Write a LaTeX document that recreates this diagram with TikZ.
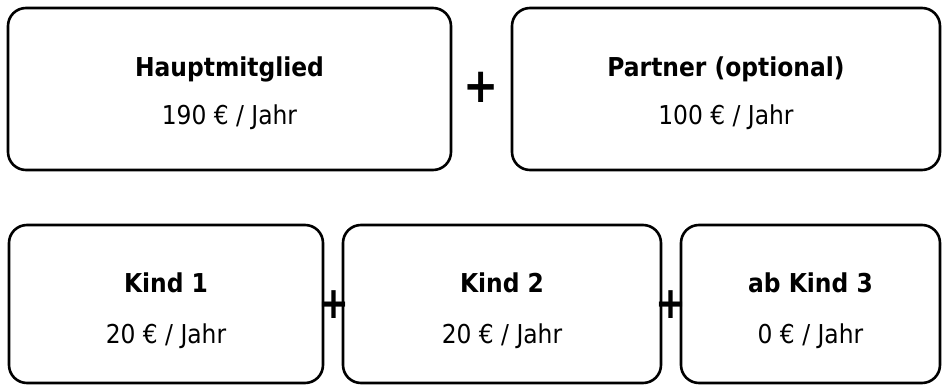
\documentclass[tikz,border=0pt]{standalone}
\usepackage{fontspec}
\setmainfont{DejaVu Sans Condensed}
\newfontfamily\plusfont{DejaVu Sans}[BoldFont={DejaVu Sans Bold}]
\begin{document}
\begin{tikzpicture}[x=1pt,y=-1pt,
  feebox/.style={draw=black, line width=2.6pt, rounded corners=18pt, fill=white},
  ttl/.style={font=\fontsize{26}{30}\selectfont\bfseries, anchor=base, inner sep=0pt},
  fee/.style={font=\fontsize{26}{30}\selectfont, anchor=base, inner sep=0pt},
  bigplus/.style={font=\plusfont\fontsize{42}{42}\selectfont\bfseries, inner sep=0pt},
  smallplus/.style={font=\plusfont\fontsize{37}{37}\selectfont\bfseries, inner sep=0pt}]
  \useasboundingbox (0,0) rectangle (946,385);

  % upper row
  \draw[feebox] (8,8) rectangle (451,170);
  \draw[feebox] (512,8) rectangle (940,170);
  \node[ttl] (haupt)  at (229.5,77)  {Hauptmitglied};
  \node[fee] (hauptF) at (229.5,124.5) {190 € / Jahr};
  \node[ttl] (partner)  at (726,77)  {Partner (optional)};
  \node[fee] (partnerF) at (726,124.5) {100 € / Jahr};

  % lower row
  \draw[feebox] (9,225) rectangle (323,383);
  \draw[feebox] (343,225) rectangle (661,383);
  \draw[feebox] (681,225) rectangle (940,383);
  \node[ttl] (k1)  at (166,292) {Kind 1};
  \node[fee] (k1F) at (166,343) {20 € / Jahr};
  \node[ttl] (k2)  at (502,292) {Kind 2};
  \node[fee] (k2F) at (502,343) {20 € / Jahr};
  \node[ttl] (k3)  at (810.5,292) {ab Kind 3};
  \node[fee] (k3F) at (810.5,343) {0 € / Jahr};

  % plus signs between the boxes
  \node[bigplus] (p0) at (481.5,87.5) {\scalebox{1}[1.15]{+}};
  \node[smallplus] (p1) at (333.5,304.5) {\scalebox{1}[1.2]{+}};
  \node[smallplus] (p2) at (670.5,304.5) {\scalebox{1}[1.2]{+}};
\end{tikzpicture}
\end{document}
